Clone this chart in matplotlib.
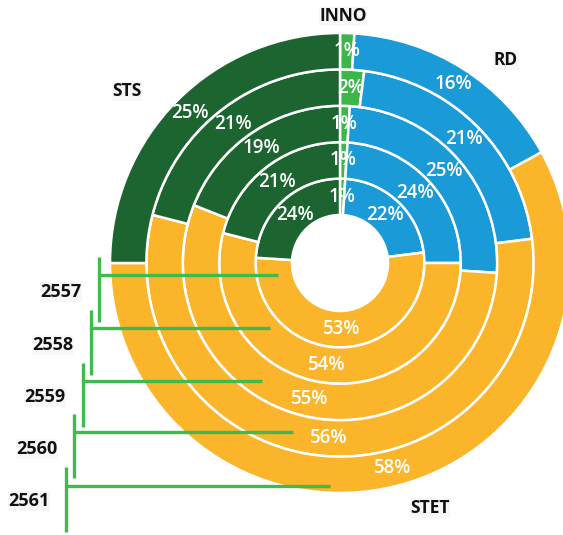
import numpy as np
import matplotlib
matplotlib.use("Agg")
import matplotlib.pyplot as plt

# share of each category per year, inner ring = first year
years = ["2557", "2558", "2559", "2560", "2561"]
categories = ["INNO", "RD", "STET", "STS"]
inno = [1, 1, 1, 2, 1]
rd = [22, 24, 25, 21, 16]
stet = [53, 54, 55, 56, 58]
sts = [24, 21, 19, 21, 25]

colors = ["#3cb64b", "#1b9ad8", "#fbb52b", "#1d6530"]
bracket_color = "#3fba4c"

W, H = 563, 535
plt.rcParams["font.family"] = ["Open Sans", "DejaVu Sans"]

fig = plt.figure(figsize=(W / 100, H / 100), dpi=100)
ax = fig.add_axes([0, 0, 1, 1])

# work in pixel units, y measured from the top
def py(y):
    return H - y

center = (340, py(263))
r_hole = 48
r_outer = 230
ring_w = (r_outer - r_hole) / len(years)

for i in range(len(years)):
    vals = [inno[i], rd[i], stet[i], sts[i]]
    r = r_hole + ring_w * (i + 1)
    ax.pie(vals, radius=r, center=center, startangle=90, counterclock=False,
           colors=colors, autopct="%.0f%%",
           pctdistance=(r - ring_w / 2) / r,
           wedgeprops=dict(width=ring_w, edgecolor="white", linewidth=1.8),
           textprops=dict(color="white", fontsize=13.5, fontweight="semibold"))

# category names around the outer ring
cat_pos = {"INNO": (343, 16), "RD": (506, 60), "STET": (430, 508), "STS": (127, 91)}
for c in categories:
    x, y = cat_pos[c]
    ax.text(x, py(y), c, ha="center", va="center", fontsize=12.5,
            fontweight="bold", color="#111111",
            bbox=dict(facecolor="#f7f7f7", edgecolor="none", pad=0.5))

# year brackets pointing into each ring
vx = [99, 91, 83, 74, 66]
vtop = [257, 310, 363, 414, 467]
vbot = [322, 375, 427, 478, 532]
hy = [275, 328, 381, 432, 486]
hx_end = [278, 270, 262, 293, 330]
lbl_x = [61, 53, 45, 37, 29]
lbl_y = [292, 345, 397, 449, 501]
for i, yr in enumerate(years):
    ax.plot([vx[i], vx[i]], [py(vtop[i]), py(vbot[i])], color=bracket_color,
            lw=2.4, solid_capstyle="butt")
    ax.plot([vx[i], hx_end[i]], [py(hy[i]), py(hy[i])], color=bracket_color,
            lw=2.4, solid_capstyle="butt")
    ax.text(lbl_x[i], py(lbl_y[i]), yr, ha="center", va="center", fontsize=13,
            fontweight="bold", color="#111111",
            bbox=dict(facecolor="#f7f7f7", edgecolor="none", pad=0.5))

ax.set_xlim(0, W)
ax.set_ylim(0, H)
ax.set_aspect("equal")
ax.axis("off")

fig.savefig("out.png", dpi=100)
